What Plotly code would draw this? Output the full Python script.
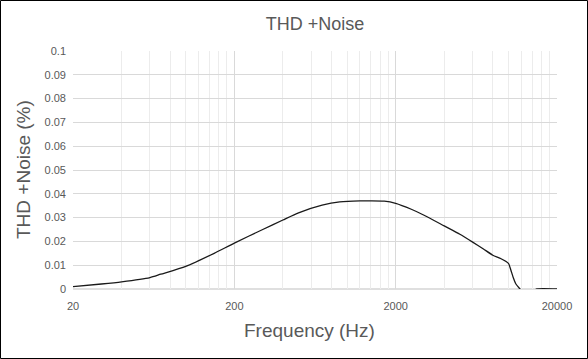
import plotly.graph_objects as go

freq_hz = [20, 30, 40, 60, 70, 100, 150, 200, 300, 400, 500, 700, 900, 1200, 1700,
           2000, 2500, 3000, 4000, 5000, 6000, 7000, 8000, 9000, 10000, 10350, 10750,
           11100, 11800, 12500, 14000, 15000, 20000]
thdn_pct = [0.001, 0.0021, 0.003, 0.0048, 0.0062, 0.0095, 0.015, 0.0193, 0.025, 0.029,
            0.032, 0.0352, 0.0366, 0.0370, 0.0369, 0.036, 0.0335, 0.031, 0.0265, 0.023,
            0.0197, 0.0168, 0.0142, 0.0127, 0.0108, 0.008, 0.0045, 0.0022, 0.0,
            -0.002, -0.001, 0.0, 0.0]

x_tickvals = [20, 200, 2000, 20000]
x_ticktext = ["20", "200", "2000", "20000"]
x_minor = [20 * m * d for d in (1, 10, 100) for m in range(2, 10)]
y_tickvals = [i / 100 for i in range(0, 11)]
y_ticktext = ["0"] + [f"{v:g}" for v in y_tickvals[1:]]

W, H = 588, 359
ml, mr, mt, mb = 73, 31, 51, 70
pw, ph = W - ml - mr, H - mt - mb
TXT = "#595959"

fig = go.Figure()
fig.add_trace(go.Scatter(
    x=freq_hz, y=thdn_pct, mode="lines",
    line=dict(color="#1a1a1a", width=1.3, shape="spline", smoothing=0.6),
    showlegend=False, hoverinfo="skip"))

fig.update_layout(
    width=W, height=H,
    margin=dict(l=ml, r=mr, t=mt, b=mb),
    paper_bgcolor="white", plot_bgcolor="white",
    font=dict(family="Liberation Sans, Arial, sans-serif", color=TXT),
    title=dict(text="THD +Noise", x=294 / W, xref="paper", xanchor="center",
               y=1 - 23.5 / H, yanchor="middle", font=dict(size=18, color=TXT)),
    xaxis=dict(
        type="log", range=[1.30103, 4.30103],
        tickmode="array", tickvals=x_tickvals, ticktext=x_ticktext,
        tickfont=dict(size=11, color=TXT),
        showgrid=True, gridcolor="#d9d9d9", gridwidth=1,
        minor=dict(tickmode="array", tickvals=x_minor, showgrid=True,
                   gridcolor="#ececec", gridwidth=1, ticklen=0),
        showline=False, zeroline=False, ticks="", ticklabelstandoff=9,
    ),
    yaxis=dict(
        range=[0, 0.1], tickmode="array", tickvals=y_tickvals, ticktext=y_ticktext,
        tickfont=dict(size=11, color=TXT),
        showgrid=True, gridcolor="#d9d9d9", gridwidth=1,
        showline=False, zeroline=False, ticks="", ticklabelstandoff=6,
    ),
    annotations=[
        dict(text="Frequency (Hz)", xref="paper", yref="paper",
             x=(309 - ml) / pw, y=-(330 - (H - mb)) / ph,
             xanchor="center", yanchor="middle", showarrow=False,
             font=dict(size=19, color=TXT)),
        dict(text="THD +Noise (%)", xref="paper", yref="paper",
             x=(23.5 - ml) / pw, y=((H - mb) - 169.5) / ph, textangle=-90,
             xanchor="center", yanchor="middle", showarrow=False,
             font=dict(size=19, color=TXT)),
    ],
    shapes=[
        dict(type="line", xref="paper", yref="paper", x0=0, x1=1, y0=0, y1=0,
             line=dict(color="#bfbfbf", width=1), layer="below"),
        dict(type="rect", xref="paper", yref="paper",
             x0=-(ml - 0.5) / pw, x1=1 + (mr - 0.5) / pw,
             y0=-(mb - 0.5) / ph, y1=1 + (mt - 0.5) / ph,
             line=dict(color="black", width=1), fillcolor="rgba(0,0,0,0)"),
    ],
)

fig.write_html("out.html", config={"displayModeBar": False},
               post_script="document.body.style.margin='0';document.body.style.overflow='hidden';")
